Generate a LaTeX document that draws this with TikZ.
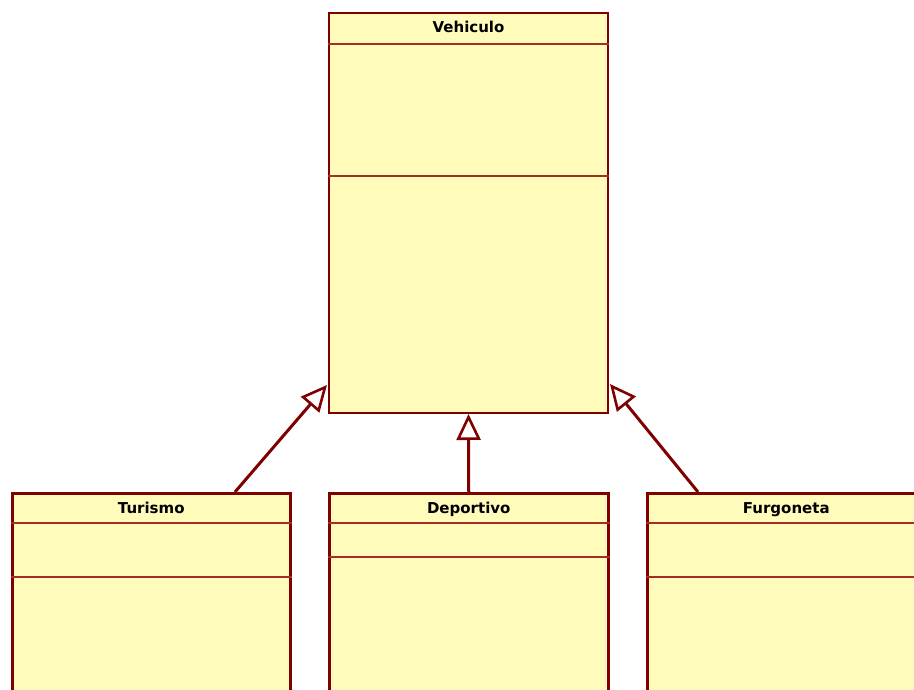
\documentclass[tikz,border=0pt]{standalone}
\usepackage{fontspec}
\newfontfamily\umlfont{DejaVu Sans}
\usetikzlibrary{positioning,calc,arrows.meta}
\definecolor{classfill}{RGB}{255,252,187}
\definecolor{classline}{RGB}{128,0,0}
\definecolor{sepline}{RGB}{165,45,35}
\tikzset{
    classbox/.style={draw=classline, fill=classfill, line width=2pt, anchor=north west, inner sep=0pt},
    classname/.style={font=\umlfont\bfseries\fontsize{15}{17}\selectfont, text=black, anchor=base},
    divider/.style={draw=sepline, line width=1.2pt},
    inherit/.style={draw=classline, line width=3pt,
        -{Triangle[open, length=26pt, width=24pt, line width=2.6pt, fill=white]}}
}
\begin{document}
\begin{tikzpicture}[x=1pt, y=1pt]
    \clip (0,0) rectangle (914,-690);
    \fill[white] (0,0) rectangle (914,-690);

    % Classes
    \node[classbox, minimum width=279pt, minimum height=400pt] (vehiculo) at (328,-12) {};
    \node[classbox, line width=2.5pt, minimum width=278pt, minimum height=300pt] (turismo) at (11,-492) {};
    \node[classbox, line width=2.5pt, minimum width=279pt, minimum height=300pt] (deportivo) at (328,-492) {};
    \node[classbox, line width=2.5pt, minimum width=300pt, minimum height=300pt] (furgoneta) at (646,-492) {};

    % Compartments
    \foreach \cls/\a/\b in {vehiculo/32/164, turismo/31/85, deportivo/31/65, furgoneta/31/85} {
        \draw[divider] ([yshift=-\a pt]\cls.north west) -- ([yshift=-\a pt]\cls.north east);
        \draw[divider] ([yshift=-\b pt]\cls.north west) -- ([yshift=-\b pt]\cls.north east);
    }

    % Names
    \node[classname] (vehiculoname) at ([yshift=-21pt]vehiculo.north) {Vehiculo};
    \node[classname] (turismoname) at ([yshift=-21pt]turismo.north) {Turismo};
    \node[classname] (deportivoname) at ([yshift=-21pt]deportivo.north) {Deportivo};
    \node[classname] (furgonetaname) at ([xshift=-11pt, yshift=-21pt]furgoneta.north) {Furgoneta};

    % Generalisations
    \draw[inherit] ([xshift=224pt]turismo.north west) -- ([xshift=-1pt, yshift=29pt]vehiculo.south west);
    \draw[inherit] (deportivo.north) -- (vehiculo.south);
    \draw[inherit] ([xshift=52pt]furgoneta.north west) -- ([xshift=1pt, yshift=30pt]vehiculo.south east);
\end{tikzpicture}
\end{document}
